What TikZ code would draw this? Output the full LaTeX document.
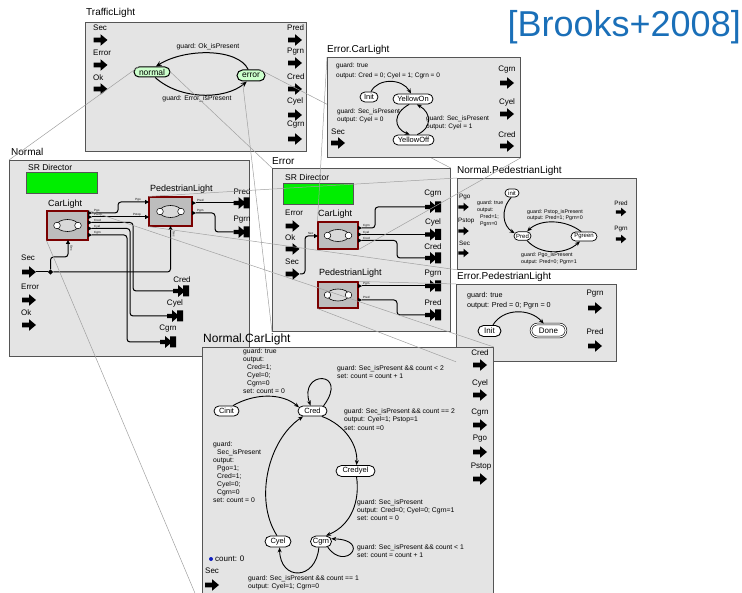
\documentclass[tikz,border=0pt]{standalone}
\usepackage{fontspec}
\setmainfont{Liberation Sans}
\usetikzlibrary{arrows.meta,shapes.misc,shapes.geometric}
\newcommand{\myfs}[1]{\fontsize{#1}{#1}\selectfont}
\newcommand{\rtri}[2]{\fill (#1,#2-2.2) -- (#1+4,#2) -- (#1,#2+2.2) -- cycle;}
\newcommand{\utri}[2]{\fill (#1-2.2,#2+4) -- (#1,#2) -- (#1+2.2,#2+4) -- cycle;}
\definecolor{boxfill}{HTML}{E4E4E4}
\definecolor{boxline}{HTML}{555555}
\definecolor{stgreen}{HTML}{CCFFCC}
\definecolor{srgreen}{HTML}{00EE00}
\definecolor{actfill}{HTML}{BDBDBD}
\definecolor{actline}{HTML}{7A0000}
\definecolor{citeblue}{HTML}{1A6FB8}
\definecolor{zoomline}{HTML}{A0A0A0}
\definecolor{countblue}{HTML}{1020C0}
\pgfdeclarelayer{front}
\pgfsetlayers{main,front}
\tikzset{
  inport/.pic={\fill[black] (-7,-2.3) -- (0,-2.3) -- (0,-5.8) -- (7,0) -- (0,5.8) -- (0,2.3) -- (-7,2.3) -- cycle;},
  outport/.pic={\fill[black] (-8,-2.2) -- (-3,-2.2) -- (-3,-6) -- (2,-1.8) -- (2,-5.5) -- (8,-5.5) -- (8,5.5) -- (2,5.5) -- (2,1.8) -- (-3,6) -- (-3,2.2) -- (-8,2.2) -- cycle;},
  actoricon/.pic={\draw[fill=gray!30, line width=0.6pt] (0,0) ellipse (11 and 6);
     \draw[fill=white, line width=0.5pt] (-10.5,0) circle (3.3);
     \draw[fill=white, line width=0.5pt] (10.5,0) circle (3.3);},
  comp/.style={draw=boxline, fill=boxfill, line width=0.8pt, anchor=north west, inner sep=0pt},
  ttl/.style={anchor=west, inner sep=0pt, font=\myfs{10}},
  plab/.style={inner sep=0pt, font=\myfs{8}},
  alab/.style={anchor=west, inner sep=0pt, font=\myfs{9}},
  tiny/.style={inner sep=0pt, font=\myfs{3}},
  gtxt/.style={anchor=north west, inner sep=0pt, align=left, font=\fontsize{6.8}{8}\selectfont},
  st/.style={rounded rectangle, draw, line width=0.8pt, fill=white, inner xsep=2pt, inner ysep=0pt, font=\myfs{7.5}, minimum height=10pt},
  tlst/.style={st, fill=stgreen, line width=1pt, font=\myfs{8.5}},
  actorbox/.style={draw=actline, fill=actfill, line width=1.1pt, inner sep=0pt},
  wire/.style={line width=1pt, rounded corners=3pt},
  zl/.style={draw=zoomline, line width=0.5pt},
  tr/.style={-{Stealth[length=5pt,width=4pt]}, line width=0.9pt},
  tro/.style={-{Stealth[open,length=6pt,width=5pt]}, line width=1pt},
}
\begin{document}
\begin{tikzpicture}[x=1pt,y=-1pt]
\useasboundingbox (0,0) rectangle (742,593);

% ================= TrafficLight =================
\node[comp, minimum width=221pt, minimum height=129pt] (tlbox) at (85,22) {};
\node[ttl] (tltitle) at (86,13) {TrafficLight};
\node[plab, anchor=west] (tlsec) at (93,28) {Sec};
\node[plab, anchor=west] (tlerr) at (93,53) {Error};
\node[plab, anchor=west] (tlok) at (93,78) {Ok};
\pic at (100.5,40) {inport};
\pic at (100.5,65) {inport};
\pic at (100.5,89) {inport};
\node[plab, anchor=west] (tlpred) at (287,28) {Pred};
\node[plab, anchor=west] (tlpgrn) at (287,52) {Pgrn};
\node[plab, anchor=west] (tlcred) at (287,77) {Cred};
\node[plab, anchor=west] (tlcyel) at (287,101) {Cyel};
\node[plab, anchor=west] (tlcgrn) at (287,125) {Cgrn};
\pic at (295,40) {inport};
\pic at (295,63) {inport};
\pic at (295,89) {inport};
\pic at (295,115) {inport};
\pic at (295,139) {inport};
\node[tlst, minimum width=40pt] (tlnormal) at (152,72) {normal};
\node[tlst, minimum width=32pt, minimum height=11pt] (tlerror) at (251,75.5) {error};
\draw[tro] (tlerror.115) .. controls (238,48) and (185,48) .. (tlnormal.55);
\draw[tro] (tlnormal.-60) .. controls (180,100) and (225,100) .. (tlerror.-125);
\node[font=\myfs{6.8}, inner sep=0pt] (tlg1) at (208,47) {guard: Ok\_isPresent};
\node[font=\myfs{6.8}, inner sep=0pt] (tlg2) at (197,99) {guard: Error\_isPresent};

% ================= Error.CarLight (front layer) =================
\begin{pgfonlayer}{front}
\node[comp, minimum width=193pt, minimum height=100pt] (ecbox) at (327,57) {};
\node[ttl] (ectitle) at (327,50) {Error.CarLight};
\node[gtxt, font=\fontsize{6.5}{10}\selectfont] (ecg0) at (336,62.5) {guard: true\\output: Cred = 0; Cyel = 1; Cgrn = 0};
\node[st, minimum width=22pt] (ecinit) at (369,97) {Init};
\node[st, minimum width=44pt] (ecyon) at (413,99) {YellowOn};
\node[st, minimum width=45pt] (ecyoff) at (413.5,140) {YellowOff};
\draw[tr] (ecinit.70) .. controls (378,78) and (402,78) .. (ecyon.110);
\draw[tr] (ecyon.-125) .. controls (393,113) and (393,128) .. (ecyoff.125);
\draw[tr] (ecyoff.55) .. controls (432,128) and (432,113) .. (ecyon.-55);
\node[gtxt, font=\fontsize{6.5}{8.5}\selectfont] (ecg1) at (337,108.5) {guard: Sec\_isPresent\\output: Cyel = 0};
\node[gtxt, font=\fontsize{6.5}{8.5}\selectfont] (ecg2) at (426,115.5) {guard: Sec\_isPresent\\output: Cyel = 1};
\node[plab, anchor=west] (ecsec) at (331,132) {Sec};
\pic at (338,143) {inport};
\node[plab] (eccgrn) at (507,70) {Cgrn};
\node[plab] (eccyel) at (507,102) {Cyel};
\node[plab] (eccred) at (507,135) {Cred};
\pic at (507,83) {inport};
\pic at (507,114) {inport};
\pic at (507,146) {inport};
\end{pgfonlayer}

% ================= Normal =================
\node[comp, minimum width=240pt, minimum height=196pt] (nbox) at (9,160) {};
\node[ttl] (ntitle) at (11,152) {Normal};
\node[anchor=west, inner sep=0pt, font=\myfs{8.5}] (nsrt) at (28,167) {SR Director};
\node[draw=boxline, fill=srgreen, anchor=north west, minimum width=71pt, minimum height=21pt, line width=0.7pt, inner sep=0pt] (nsr) at (26,172) {};
% actors
\node[actorbox, minimum width=41pt, minimum height=29pt] (ncl) at (67.5,225.5) {};
\pic at (67.5,225.5) {actoricon};
\node[alab] (ncllab) at (48,204) {CarLight};
\node[actorbox, minimum width=43pt, minimum height=29pt] (npl) at (170.5,211.5) {};
\pic at (170.5,211.5) {actoricon};
\node[alab] (npllab) at (150,189) {PedestrianLight};
% inputs
\node[plab, anchor=west] (nsec) at (21,258) {Sec};
\node[plab, anchor=west] (nerr) at (21,287) {Error};
\node[plab, anchor=west] (nok) at (21,313) {Ok};
\pic at (29,272) {inport};
\pic at (29,300) {inport};
\pic at (29,325) {inport};
% port triangles
\rtri{88}{213} \rtri{88}{217} \rtri{88}{222.5} \rtri{88}{228.5} \rtri{88}{235}
\rtri{145}{202} \rtri{145}{217}
\rtri{192}{203} \rtri{192}{213}
\utri{68}{240} \utri{170.5}{226}
\node[tiny, anchor=west] (nclp1) at (94,210.5) {Pgo};
\node[tiny, anchor=west] (nclp2) at (94,214.8) {Pstop};
\node[tiny, anchor=west] (nclp3) at (94,220.3) {Cred};
\node[tiny, anchor=west] (nclp4) at (94,226.3) {Cyel};
\node[tiny, anchor=west] (nclp5) at (94,232.8) {Cgrn};
\node[tiny] (nplp1) at (138,199.5) {Pgo};
\node[tiny] (nplp2) at (137,214.5) {Pstop};
\node[tiny, anchor=west] (nplp3) at (197,200.5) {Pred};
\node[tiny, anchor=west] (nplp4) at (197,210.5) {Pgrn};
\node[tiny, rotate=-90] (nclp6) at (71.5,248) {Sec};
\node[tiny, rotate=-90] (nplp5) at (174,234) {Sec};
% coordinates for wires
\coordinate (nclPgo) at (92,213);
\coordinate (nclPstop) at (92,217);
\coordinate (nclCred) at (92,222.5);
\coordinate (nclCyel) at (92,228.5);
\coordinate (nclCgrn) at (92,235);
\coordinate (nplPgo) at (145,202);
\coordinate (nplPstop) at (145,217);
\coordinate (nplPred) at (196,203);
\coordinate (nplPgrn) at (196,213);
\coordinate (nclSec) at (68,244);
\coordinate (nplSec) at (170.5,230);
\coordinate (nsecout) at (36,272);
\coordinate (noPred) at (233.5,203);
\coordinate (noPgrn) at (233.5,232);
\coordinate (noCred) at (173,291);
\coordinate (noCyel) at (167,316);
\coordinate (noCgrn) at (160,342);
\node[diamond, fill=black, inner sep=0pt, minimum size=5.5pt] (ndia) at (50.5,272) {};
\draw[wire] (nsecout) -- (ndia);
\draw[wire] (ndia) -- (50.5,257) -- (68,257) -- (nclSec);
\draw[wire] (ndia) -- (170.5,272) -- (nplSec);
\draw[wire] (nclPgo) -- (118,213) -- (118,202) -- (nplPgo);
\draw[wire] (nclPstop) -- (nplPstop);
\draw[wire] (nclCred) -- (133,222.5) -- (133,291) -- (noCred);
\draw[wire] (nclCyel) -- (130,228.5) -- (130,316) -- (noCyel);
\draw[wire] (nclCgrn) -- (127,235) -- (127,342) -- (noCgrn);
\draw[wire] (nplPred) -- (noPred);
\draw[wire] (nplPgrn) -- (215,213) -- (215,232) -- (noPgrn);
\pic at (241.5,203) {outport};
\pic at (241.5,232) {outport};
\pic at (181,291) {outport};
\pic at (175,316) {outport};
\pic at (168,342) {outport};
\node[plab] (nopred) at (242,192) {Pred};
\node[plab] (nopgrn) at (242,220) {Pgrn};
\node[plab] (nocred) at (182,280) {Cred};
\node[plab] (nocyel) at (175,303) {Cyel};
\node[plab] (nocgrn) at (168,329) {Cgrn};

% ================= Error =================
\node[comp, minimum width=178pt, minimum height=163pt] (ebox) at (272,168) {};
\node[ttl] (etitle) at (272,161) {Error};
\node[anchor=west, inner sep=0pt, font=\myfs{8.5}] (esrt) at (285,177) {SR Director};
\node[draw=boxline, fill=srgreen, anchor=north west, minimum width=70pt, minimum height=21pt, line width=0.7pt, inner sep=0pt] (esr) at (283,183) {};
\node[plab, anchor=west] (eerr) at (285,213) {Error};
\node[plab, anchor=west] (eok) at (285,238) {Ok};
\node[plab, anchor=west] (esec) at (285,262) {Sec};
\pic at (292.5,226) {inport};
\pic at (292.5,249) {inport};
\pic at (292.5,274) {inport};
\node[actorbox, minimum width=40pt, minimum height=27pt] (ecl) at (338,235.5) {};
\pic at (338,235.5) {actoricon};
\node[alab] (ecllab) at (318,214) {CarLight};
\node[actorbox, minimum width=40pt, minimum height=26pt] (epl) at (338,295) {};
\pic at (338,295) {actoricon};
\node[alab] (epllab) at (319,273) {PedestrianLight};
\rtri{314}{236}
\rtri{358}{228} \rtri{358}{234.5} \rtri{358}{240.5}
\rtri{358}{286} \rtri{358}{300}
\node[tiny, anchor=east] (eclp0) at (313.5,233.5) {Sec};
\node[tiny, anchor=west] (eclp1) at (363,226) {Cgrn};
\node[tiny, anchor=west] (eclp2) at (363,232.3) {Cyel};
\node[tiny, anchor=west] (eclp3) at (363,238.5) {Cred};
\node[tiny, anchor=west] (eplp1) at (363,283.8) {Pgrn};
\node[tiny, anchor=west] (eplp2) at (363,297.8) {Pred};
\coordinate (esecout) at (300,274);
\coordinate (eclSec) at (314,236);
\coordinate (eclCgrn) at (362,228);
\coordinate (eclCyel) at (362,234.5);
\coordinate (eclCred) at (362,240.5);
\coordinate (eplPgrn) at (362,286);
\coordinate (eplPred) at (362,300);
\coordinate (eoCgrn) at (425,207);
\coordinate (eoCyel) at (425,234.5);
\coordinate (eoCred) at (425,258);
\coordinate (eoPgrn) at (425,286);
\coordinate (eoPred) at (425,315);
\draw[wire] (esecout) -- (305,274) -- (305,236) -- (eclSec);
\draw[wire] (eclCgrn) -- (375,228) -- (375,207) -- (eoCgrn);
\draw[wire] (eclCyel) -- (eoCyel);
\draw[wire] (eclCred) -- (397,240.5) -- (397,258) -- (eoCred);
\draw[wire] (eplPgrn) -- (eoPgrn);
\draw[wire] (eplPred) -- (397,300) -- (397,315) -- (eoPred);
\pic at (433,207) {outport};
\pic at (433,234.5) {outport};
\pic at (433,258) {outport};
\pic at (433,286) {outport};
\pic at (433,315) {outport};
\node[plab] (eocgrn) at (433,194) {Cgrn};
\node[plab] (eocyel) at (433,222) {Cyel};
\node[plab] (eocred) at (433,247) {Cred};
\node[plab] (eopgrn) at (433,274) {Pgrn};
\node[plab] (eopred) at (433,303) {Pred};

% ================= Normal.PedestrianLight =================
\node[comp, minimum width=179pt, minimum height=91pt] (npbox) at (457,178) {};
\node[ttl] (nptitle) at (457,171) {Normal.PedestrianLight};
\node[plab, anchor=west, font=\myfs{6.3}] (nppgo) at (459,197) {Pgo};
\node[plab, anchor=west, font=\myfs{6.3}] (nppstop) at (458,221) {Pstop};
\node[plab, anchor=west, font=\myfs{6.3}] (npsec) at (459,243) {Sec};
\pic[scale=0.75] at (463.5,207) {inport};
\pic[scale=0.75] at (463.5,231) {inport};
\pic[scale=0.75] at (463.5,253) {inport};
\node[plab, font=\myfs{6.3}] (nppred) at (621,203) {Pred};
\node[plab, font=\myfs{6.3}] (nppgrn) at (621,229) {Pgrn};
\pic[scale=0.75] at (621,212) {inport};
\pic[scale=0.75] at (621,239) {inport};
\node[st, minimum width=18pt, minimum height=8pt, font=\myfs{6}, line width=0.7pt] (npinit) at (512,193) {init};
\node[st, minimum width=21pt, minimum height=8.5pt, font=\myfs{6}, line width=0.7pt] (nppredst) at (522.5,236) {Pred};
\node[st, minimum width=30pt, minimum height=9pt, font=\myfs{6}, line width=0.7pt] (nppgreen) at (584,236.5) {Pgreen};
\draw[tr] (npinit.-100) .. controls (500,210) and (503,226) .. (nppredst.160);
\draw[tr] (nppgreen.120) .. controls (565,219) and (540,219) .. (nppredst.45);
\draw[tr] (nppredst.-45) .. controls (540,255) and (565,255) .. (nppgreen.-130);
\node[gtxt, font=\fontsize{5.3}{7}\selectfont] (npg0) at (477,200) {guard: true\\output:\\\hspace*{3pt}Pred=1;\\\hspace*{3pt}Pgrn=0};
\node[gtxt, font=\fontsize{5.3}{6.5}\selectfont] (npg1) at (527,209) {guard: Pstop\_isPresent\\output: Pred=1; Pgrn=0};
\node[gtxt, font=\fontsize{5.3}{7}\selectfont] (npg2) at (521,252) {guard: Pgo\_isPresent\\output: Pred=0; Pgrn=1};

% ================= Error.PedestrianLight =================
\node[comp, minimum width=160pt, minimum height=77pt] (epbox) at (456,284) {};
\node[ttl] (eptitle) at (457,277) {Error.PedestrianLight};
\node[gtxt, font=\fontsize{7.2}{10}\selectfont] (epg0) at (467,292.3) {guard: true\\output: Pred = 0; Pgrn = 0};
\node[st, minimum width=27pt, minimum height=11pt, font=\myfs{8}, line width=0.9pt] (epinit) at (489.5,331) {Init};
\node[st, minimum width=39pt, minimum height=13pt, font=\myfs{8}, line width=0.6pt, double, double distance=1.1pt] (epdone) at (548.5,330.5) {Done};
\draw[tr] (epinit.60) .. controls (503,308) and (530,308) .. (epdone.125);
\node[plab] (eppgrn) at (595,294) {Pgrn};
\node[plab] (eppred) at (595,332) {Pred};
\pic at (595,308) {inport};
\pic at (595,346) {inport};

% ================= Normal.CarLight =================
\node[comp, minimum width=291pt, minimum height=262pt] (ncbox) at (202,347) {};
\node[ttl, font=\myfs{12}] (nctitle) at (203,339) {Normal.CarLight};
\node[gtxt] (ncg0) at (243,348.5) {guard: true\\output:\\\hspace*{4pt}Cred=1;\\\hspace*{4pt}Cyel=0;\\\hspace*{4pt}Cgrn=0\\set: count = 0};
\node[st, minimum width=29pt] (nccinit) at (226.5,411) {Cinit};
\node[st, minimum width=33pt] (nccred) at (312.5,411) {Cred};
\node[st, minimum width=43pt, minimum height=11pt] (nccredyel) at (355.5,471) {Credyel};
\node[st, minimum width=30pt, minimum height=11pt] (nccyel) at (278,541.5) {Cyel};
\node[st, minimum width=25pt, minimum height=11pt] (nccgrn) at (321,541.5) {Cgrn};
\draw[tr] (nccinit.40) .. controls (255,393) and (282,393) .. (nccred.165);
\draw[tr] (nccred.25) .. controls (350,370) and (298,370) .. (nccred.110);
\draw[tr] (nccred.-30) .. controls (345,425) and (358,445) .. (nccredyel.80);
\draw[tr] (nccredyel.-80) .. controls (360,500) and (352,525) .. (nccgrn.50);
\draw[tr] (nccgrn.-40) .. controls (345,572) and (372,540) .. (nccgrn.15);
\draw[tr] (nccgrn.-110) .. controls (316,581) and (280,581) .. (nccyel.-75);
\draw[tr] (nccyel.100) .. controls (254,500) and (268,440) .. (nccred.-150);
\node[gtxt] (ncg1) at (337,365.4) {guard: Sec\_isPresent \&\& count < 2\\set: count = count + 1};
\node[gtxt, font=\fontsize{6.8}{8.3}\selectfont] (ncg2) at (344,408.4) {guard: Sec\_isPresent \&\& count == 2\\output: Cyel=1; Pstop=1\\set: count =0};
\node[gtxt] (ncg3) at (357,499.4) {guard: Sec\_isPresent\\output: Cred=0; Cyel=0; Cgrn=1\\set: count = 0};
\node[gtxt] (ncg4) at (357,544.4) {guard: Sec\_isPresent \&\& count < 1\\set: count = count + 1};
\node[gtxt] (ncg5) at (248,575.4) {guard: Sec\_isPresent \&\& count == 1\\output: Cyel=1; Cgrn=0};
\node[gtxt] (ncg6) at (213,441.4) {guard:\\\hspace*{4pt}Sec\_isPresent\\output:\\\hspace*{4pt}Pgo=1;\\\hspace*{4pt}Cred=1;\\\hspace*{4pt}Cyel=0;\\\hspace*{4pt}Cgrn=0\\set: count = 0};
\node[circle, fill=countblue, inner sep=0pt, minimum size=4pt] (ncdot) at (211,559) {};
\node[plab, anchor=west] (nccount) at (215,559) {count: 0};
\node[plab, anchor=west] (ncsec) at (205,571) {Sec};
\pic at (212,585) {inport};
\node[plab] (ncpcred) at (480,353) {Cred};
\node[plab] (ncpcyel) at (480,383) {Cyel};
\node[plab] (ncpcgrn) at (480,413) {Cgrn};
\node[plab] (ncppgo) at (480,439) {Pgo};
\node[plab] (ncppstop) at (481,467) {Pstop};
\pic at (480,365) {inport};
\pic at (480,395) {inport};
\pic at (480,425) {inport};
\pic at (480,452) {inport};
\pic at (480,479) {inport};

% ================= citation =================
\node[anchor=east, inner sep=0pt, text=citeblue, font=\myfs{36}] (cite) at (741,27) {[Brooks+2008]};

% ================= zoom lines =================
\draw[zl] (tlnormal.north west) -- (nbox.north west);
\draw[zl] (tlnormal.east) -- (ebox.north west);
\draw[zl] (tlerror.north east) -- (ebox.north east);
\draw[zl] (tlerror.south west) -- (ebox.south west);
\draw[zl] (ncl.north east) -- (ncbox.north east);
\draw[zl] (ncl.south west) -- (ncbox.south west);
\draw[zl] (npl.north west) -- (npbox.north west);
\draw[zl] (npl.south west) -- (npbox.south west);
\draw[zl] (ecl.north west) -- (ecbox.north west);
\draw[zl] (ecl.south east) -- (ecbox.south east);
\draw[zl] (epl.north east) -- (epbox.north west);
\draw[zl] (epl.south west) -- (epbox.south west);
\end{tikzpicture}
\end{document}
